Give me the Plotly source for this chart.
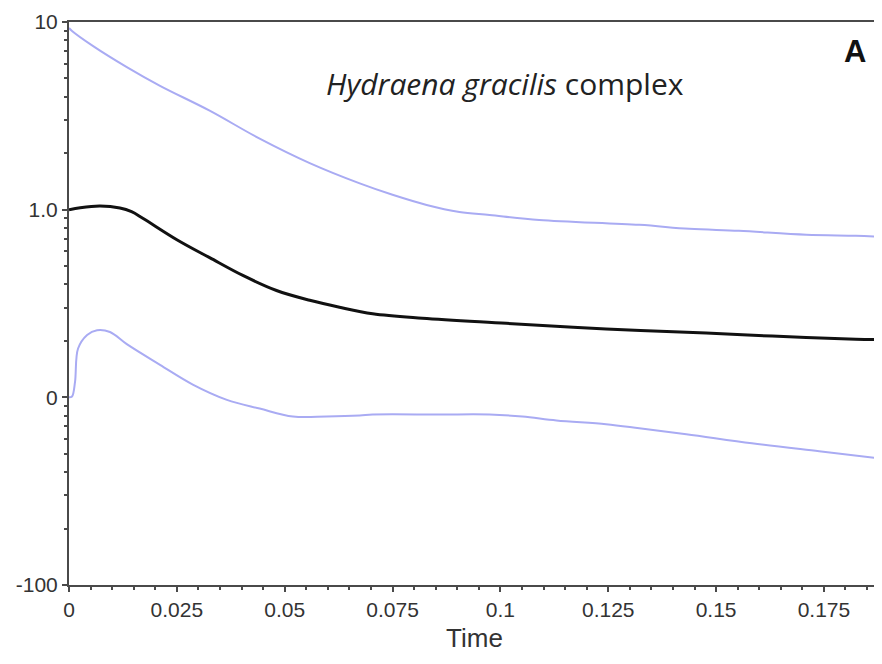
import plotly.graph_objects as go

# Median lineage-through-time curve
t_median = [0.0, 0.0026, 0.0072, 0.0118, 0.0145, 0.0171, 0.0250, 0.0326, 0.0403, 0.0481,
            0.0558, 0.0627, 0.0704, 0.0819, 0.1014, 0.1245, 0.1477, 0.1630, 0.1824, 0.1877]
median = [1.0, 1.025, 1.046, 1.02, 0.975, 0.90, 0.692, 0.555, 0.446, 0.371,
          0.329, 0.302, 0.279, 0.264, 0.248, 0.231, 0.220, 0.212, 0.204, 0.203]

# Upper 95% bound
t_upper = [0.0, 0.0007, 0.0056, 0.0134, 0.0211, 0.0326, 0.0442, 0.0558, 0.0674, 0.0750,
           0.0829, 0.0905, 0.0975, 0.1090, 0.1322, 0.1438, 0.1553, 0.1709, 0.1824, 0.1877]
upper = [9.3, 8.96, 7.44, 5.75, 4.57, 3.37, 2.39, 1.77, 1.38, 1.20,
         1.06, 0.973, 0.937, 0.882, 0.830, 0.791, 0.771, 0.735, 0.726, 0.718]

# Lower 95% bound
t_lower = [0.0, 0.0007, 0.0014, 0.0021, 0.0042, 0.0065, 0.0095, 0.0134, 0.0211, 0.0287,
           0.0366, 0.0442, 0.0519, 0.0597, 0.0674, 0.0704, 0.0859, 0.0975, 0.1051, 0.1130,
           0.1245, 0.1322, 0.1431, 0.1583, 0.1739, 0.1877]
lower = [0.1, 0.101, 0.121, 0.182, 0.215, 0.228, 0.223, 0.192, 0.149, 0.117,
         0.097, 0.0871, 0.0790, 0.0790, 0.0800, 0.0810, 0.0810, 0.0810, 0.0790, 0.0753,
         0.0718, 0.0684, 0.0636, 0.0569, 0.0516, 0.0474]

x_tickvals = [0, 0.025, 0.05, 0.075, 0.1, 0.125, 0.15, 0.175]
x_ticktext = ["0", "0.025", "0.05", "0.075", "0.1", "0.125", "0.15", "0.175"]
y_tickvals = [10, 1, 0.1, 0.01]
y_ticktext = ["10", "1.0", "0", "-100"]

blue = "#a9abf3"
axis_col = "#4a4a4a"

fig = go.Figure()
fig.add_trace(go.Scatter(x=t_upper, y=upper, mode="lines",
                         line=dict(color=blue, width=2), line_shape="spline"))
fig.add_trace(go.Scatter(x=t_lower, y=lower, mode="lines",
                         line=dict(color=blue, width=2), line_shape="spline"))
fig.add_trace(go.Scatter(x=t_median, y=median, mode="lines",
                         line=dict(color="#111111", width=3), line_shape="spline"))

tick_font = dict(family="Liberation Sans, Arial, sans-serif", size=21, color="#333333")

fig.update_layout(
    width=874, height=656,
    margin=dict(l=61, r=2, t=10, b=79),
    paper_bgcolor="white", plot_bgcolor="white",
    showlegend=False,
    xaxis=dict(
        range=[0, 0.188], tickmode="array", tickvals=x_tickvals, ticktext=x_ticktext,
        showgrid=False, zeroline=False,
        showline=True, linecolor=axis_col, linewidth=2, mirror=True,
        ticks="outside", ticklen=5, tickwidth=1.5, tickcolor=axis_col,
        tickfont=tick_font, ticklabeloverflow="allow",
        minor=dict(tickmode="linear", tick0=0, dtick=0.005, ticks="outside", ticklen=3,
                   tickwidth=1.5, tickcolor=axis_col, showgrid=False),
        title=dict(text="Time", font=dict(family="Liberation Sans, Arial, sans-serif",
                                          size=26, color="#333333"), standoff=9),
    ),
    yaxis=dict(
        type="log", range=[-2, 1], tickmode="array", tickvals=y_tickvals, ticktext=y_ticktext,
        showgrid=False, zeroline=False,
        showline=True, linecolor=axis_col, linewidth=2,
        ticks="outside", ticklen=5, tickwidth=1.5, tickcolor=axis_col,
        tickfont=tick_font, ticklabeloverflow="allow",
        minor=dict(dtick="D1", ticks="outside", ticklen=3, tickwidth=1.5, tickcolor=axis_col,
                   showgrid=False),
    ),
    annotations=[
        dict(text="<i>Hydraena gracilis</i> complex", xref="paper", yref="paper",
             x=0.537, y=0.891, xanchor="center", yanchor="middle", showarrow=False,
             font=dict(family="Open Sans, sans-serif", size=30, color="#222222")),
        dict(text="<b>A</b>", xref="paper", yref="paper",
             x=0.985, y=0.947, xanchor="right", yanchor="middle", showarrow=False,
             font=dict(family="Liberation Sans, Arial, sans-serif", size=31, color="#111111")),
    ],
)

fig.write_html("out.html")
